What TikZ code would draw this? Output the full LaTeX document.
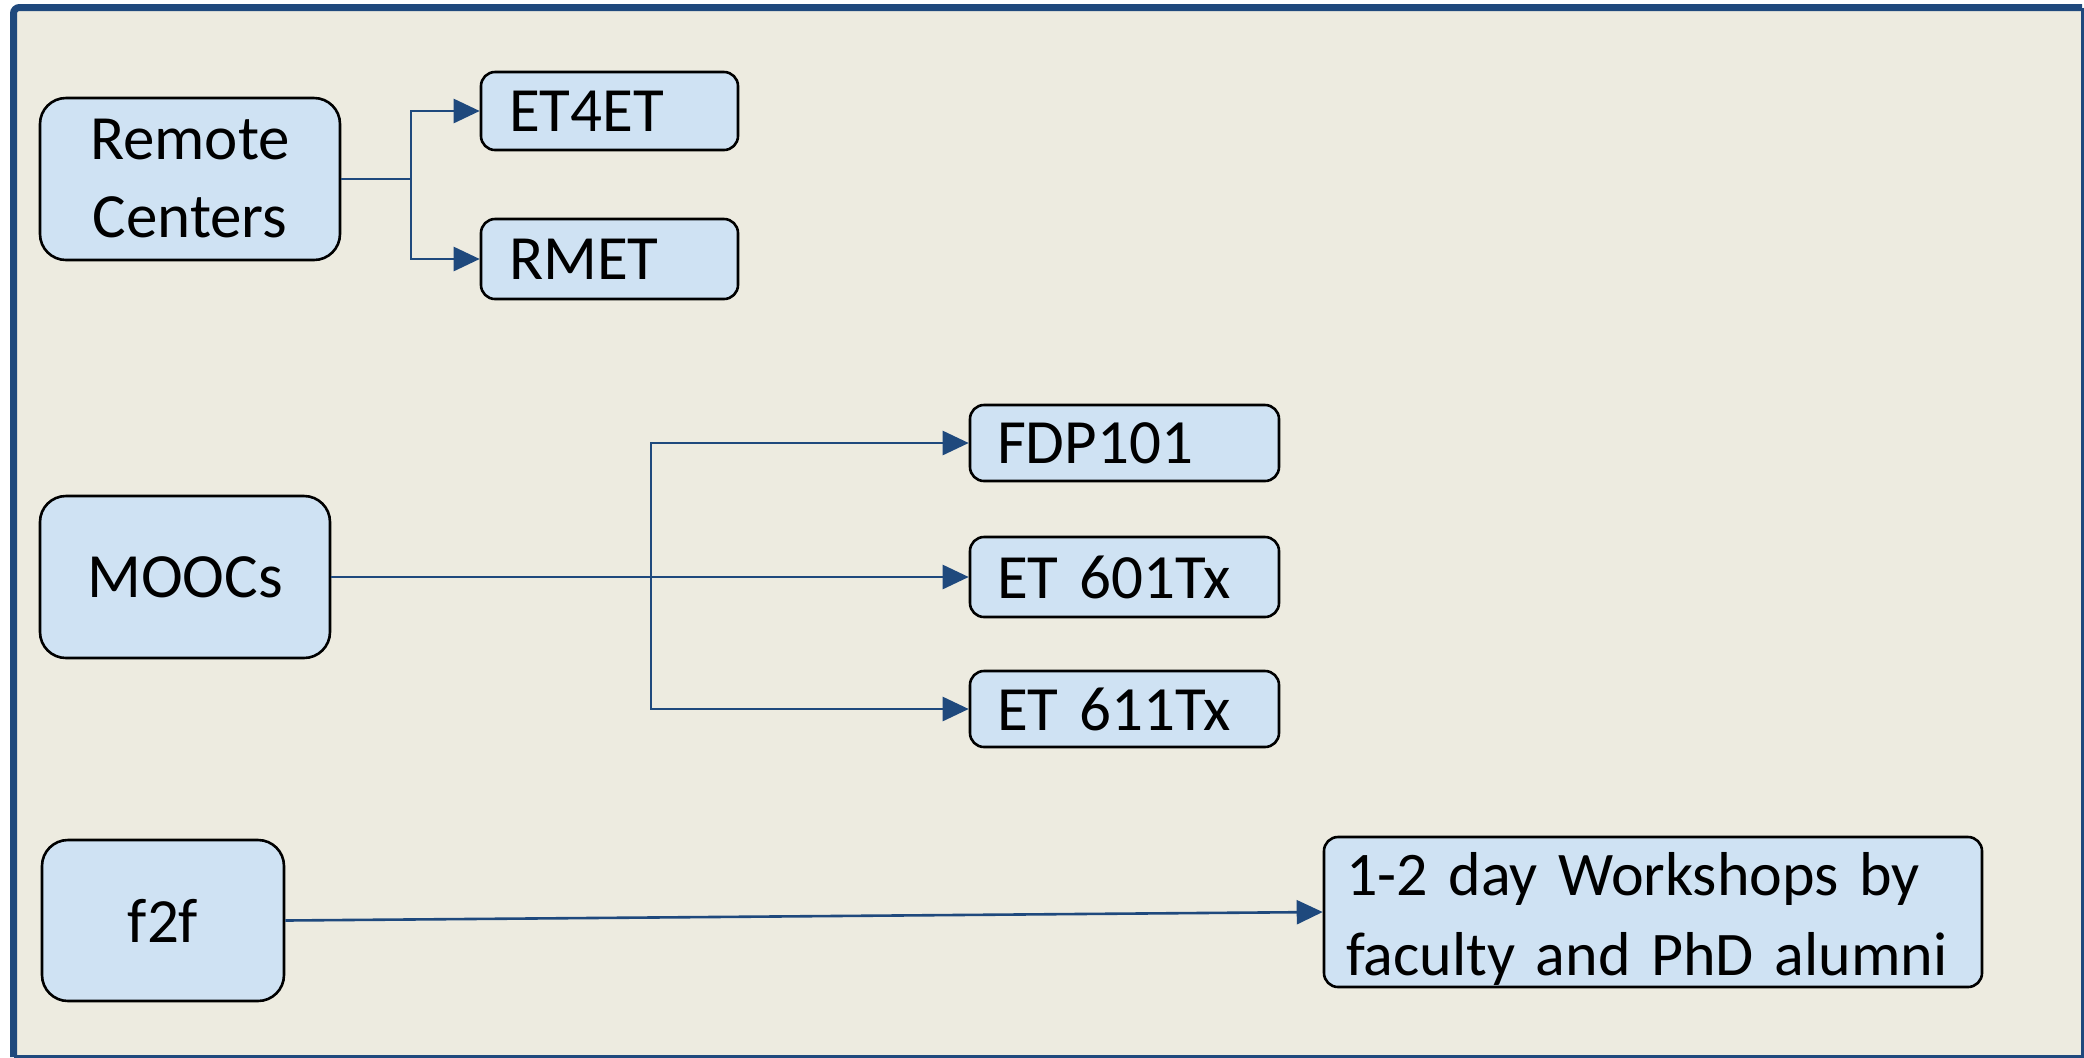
\documentclass[tikz,border=0pt]{standalone}
\usepackage{fontspec}
\setmainfont{Carlito}
\usetikzlibrary{arrows.meta}
\definecolor{bgtan}{RGB}{237,235,224}
\definecolor{boxblue}{RGB}{207,226,243}
\definecolor{frameblue}{RGB}{31,73,125}
\tikzset{
  box/.style={draw=black, line width=1.3pt, fill=boxblue, rounded corners=13pt,
    font=\fontsize{31.5}{39}\selectfont, align=center, inner sep=0pt},
  child/.style={draw=black, line width=1.3pt, fill=boxblue, rounded corners=7pt,
    font=\fontsize{31.5}{39}\selectfont, align=left, inner ysep=0pt},
  conn/.style={draw=frameblue, line width=1.3pt, -{Triangle[length=13pt,width=12pt]}},
  connplain/.style={draw=frameblue, line width=1.3pt}
}
\begin{document}
\begin{tikzpicture}[x=0.5pt,y=-0.5pt]
\useasboundingbox (0,0) rectangle (2084,1057);
\fill[white] (0,0) rectangle (2084,1057);
\fill[bgtan] (13,8) rectangle (2082,1056);
% frame
\draw[frameblue, line width=3.5pt] (13.5,1057) -- (13.5,12) [rounded corners=3pt] -- (13.5,7.5) -- (2082,7.5);
\draw[frameblue, line width=1.2pt] (2082.5,7.5) -- (2082.5,1057);
\draw[frameblue, line width=1.2pt] (13.5,1056.5) -- (2084,1056.5);

% main boxes
\node[box, minimum width=150pt, minimum height=81pt] (rc) at (190,179) {Remote\\Centers};
\node[box, minimum width=145pt, minimum height=81pt] (moocs) at (185,577) {MOOCs};
\node[box, minimum width=121pt, minimum height=80.5pt] (f2f) at (163,920.5) {f2f};

% children
\node[child, inner xsep=14pt, text width=100.5pt, minimum height=39pt] (et4et) at (609.5,111) {ET4ET};
\node[child, inner xsep=14pt, text width=100.5pt, minimum height=40pt] (rmet) at (609.5,259) {RMET};
\node[child, inner xsep=13.5pt, text width=127.5pt, minimum height=38pt] (fdp) at (1124.5,443) {FDP101};
\node[child, inner xsep=13.5pt, text width=127.5pt, minimum height=40pt] (et601) at (1124.5,577) {ET 601Tx};
\node[child, inner xsep=13.5pt, text width=127.5pt, minimum height=38pt] (et611) at (1124.5,709) {ET 611Tx};
\node[child, inner xsep=11pt, text width=307pt, minimum height=75pt,
  font=\fontsize{31}{40}\selectfont] (ws) at (1653,912) {\rule{0pt}{28pt}1-2 day Workshops by\\faculty and PhD alumni};

% connectors
\coordinate (j1) at (411,179);
\draw[connplain] (rc.east) -- (j1);
\draw[conn] (j1) |- (et4et.west);
\draw[conn] (j1) |- (rmet.west);

\coordinate (j2) at (651,577);
\draw[conn] (moocs.east) -- (et601.west);
\draw[conn] (j2) |- (fdp.west);
\draw[conn] (j2) |- (et611.west);

\draw[conn] (f2f.east) -- (ws.west);
\end{tikzpicture}
\end{document}
